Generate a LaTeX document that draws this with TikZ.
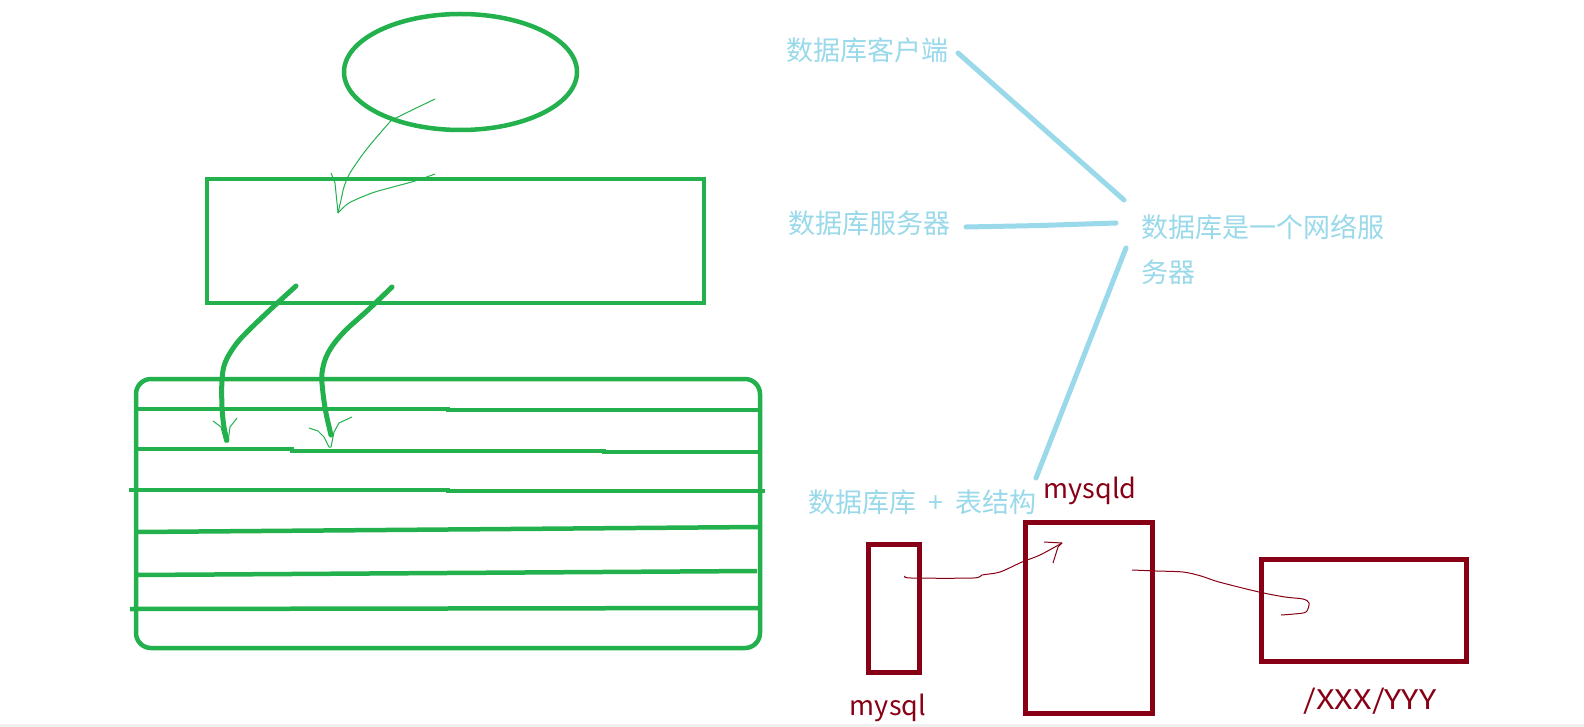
\documentclass[tikz,border=0pt]{standalone}
\usepackage{fontspec}
\newfontfamily\cjk{Noto Sans CJK SC}
\usetikzlibrary{shapes.geometric}
\definecolor{pgreen}{HTML}{22B14C}
\definecolor{pblue}{HTML}{99D9EA}
\definecolor{pred}{HTML}{880015}
\begin{document}
\begin{tikzpicture}[x=1pt,y=-1pt,
  gbox/.style={draw=pgreen, line width=4.5pt, inner sep=0pt},
  tablerow/.style={pgreen, line width=4.5pt},
  gstroke/.style={pgreen, line width=5pt, line cap=round, line join=round},
  gthin/.style={pgreen, line width=1pt, line join=round},
  bline/.style={pblue, line width=5pt, line cap=round},
  btext/.style={font=\cjk\fontsize{27}{45}\selectfont, text=pblue, inner sep=0pt, anchor=west, align=left},
  rtext/.style={font=\cjk\fontsize{27}{32}\selectfont, text=pred, inner sep=0pt},
  rbox/.style={draw=pred, line width=5pt, inner sep=0pt},
  rthin/.style={pred, line width=1pt, line join=round}]

\useasboundingbox[fill=white] (0,0) rectangle (1584,727);
\fill[gray!12] (0,724) rectangle (1584,727);

% ---------- green part ----------
\node[ellipse, gbox, minimum width=233pt, minimum height=116pt] (ell) at (460.5,72) {};
\node[gbox, minimum width=497pt, minimum height=124pt] (top) at (455.5,241) {};
\node[gbox, rounded corners=15pt, minimum width=624pt, minimum height=269pt] (tbl) at (448,513.5) {};

% table rows
\draw[tablerow] (136,409) -- (448,409) -- (448,410) -- (760,410);
\draw[tablerow] (136,449) -- (292,449) -- (292,451) -- (604,451) -- (604,452) -- (760,452);
\draw[tablerow] (129,490) -- (448,490) -- (448,491) -- (765,491);
\draw[tablerow] (136,532) -- (760,527);
\draw[tablerow] (136,575) -- (757,571);
\draw[tablerow] (130,609) -- (760,608);

% thin arrow from ellipse into top box
\coordinate (e1) at (435,99);
\coordinate (e2) at (338,213);
\draw[gthin] plot[smooth, tension=0.5] coordinates {(e1) (396,118) (389,123) (366,150) (350,173) (344,187) (341,200) (e2)};
\draw[gthin] (331,173) -- (335,183) -- (e2);
\draw[gthin] plot[smooth, tension=0.5] coordinates {(e2) (349,203) (372,193) (393,187) (415,181) (435,174)};

% thick arrows into the table
\coordinate (a1) at (296,286);
\coordinate (a2) at (227,440);
\draw[gstroke] plot[smooth, tension=0.6] coordinates {(a1) (272,308) (246,333) (234,347) (225,363) (222,380) (222,407) (224,427) (a2)};
\draw[gthin] (213,421) -- (221,427) -- (225,442) -- (228,442) -- (230,427) -- (237,418);

\coordinate (b1) at (392,287);
\coordinate (b2) at (331,435);
\draw[gstroke] plot[smooth, tension=0.6] coordinates {(b1) (368,310) (343,333) (328,353) (322,373) (323,393) (326,413) (b2)};
\draw[gthin] (309,428) -- (318,431) -- (324,437) -- (329,447) -- (331,447) -- (334,432) -- (339,423) -- (352,417);

% ---------- blue part ----------
\node[btext] (t1) at (786,50) {数据库客户端};
\node[btext] (t2) at (788,223) {数据库服务器};
\node[btext] (t3) at (1141,250) {数据库是一个网络服\\务器};
\node[btext] (t4) at (808,502) {数据库库\hspace{6pt} + \hspace{6pt}表结构};

\coordinate (l1s) at (958,53);  \coordinate (l1e) at (1124,200);
\coordinate (l2s) at (966,227); \coordinate (l2e) at (1116,223);
\coordinate (l3s) at (1126,248);\coordinate (l3e) at (1036,478);
\draw[bline] (l1s) -- (l1e);
\draw[bline] (l2s) -- (1041,225.5) -- (l2e);
\draw[bline] (l3s) -- (l3e);

% ---------- dark red part ----------
\node[rbox, minimum width=51pt, minimum height=128pt] (mysql) at (894,608.5) {};
\node[rbox, minimum width=127pt, minimum height=191pt] (mysqld) at (1089,618) {};
\node[rbox, minimum width=205pt, minimum height=102pt] (disk) at (1364,610.5) {};

\node[rtext] (lmysqld) at (1090,491) {mysqld};
\node[rtext] (lmysql) at (888,708) {mysql};
\node[rtext] (ldisk) at (1370,701) {\scalebox{1.2}[1]{/XXX/YYY}};

\coordinate (r1s) at (905,576);
\coordinate (r1e) at (1062,543);
\draw[rthin] plot[smooth, tension=0.5] coordinates {(r1s) (911,578) (973,578) (982,575) (1000,572) (1022,562) (1040,555) (r1e)};
\draw[rthin] (1044,542) -- (r1e) -- (1058,547) -- (1053,563);

\coordinate (r2s) at (1132,570);
\coordinate (r2e) at (1281,615);
\draw[rthin] plot[smooth, tension=0.5] coordinates {(r2s) (1156,571) (1183,572) (1201,576) (1219,582) (1259,592) (1285,597) (1303,599) (1309,603) (1306,612) (1294,614) (r2e)};
\end{tikzpicture}
\end{document}
